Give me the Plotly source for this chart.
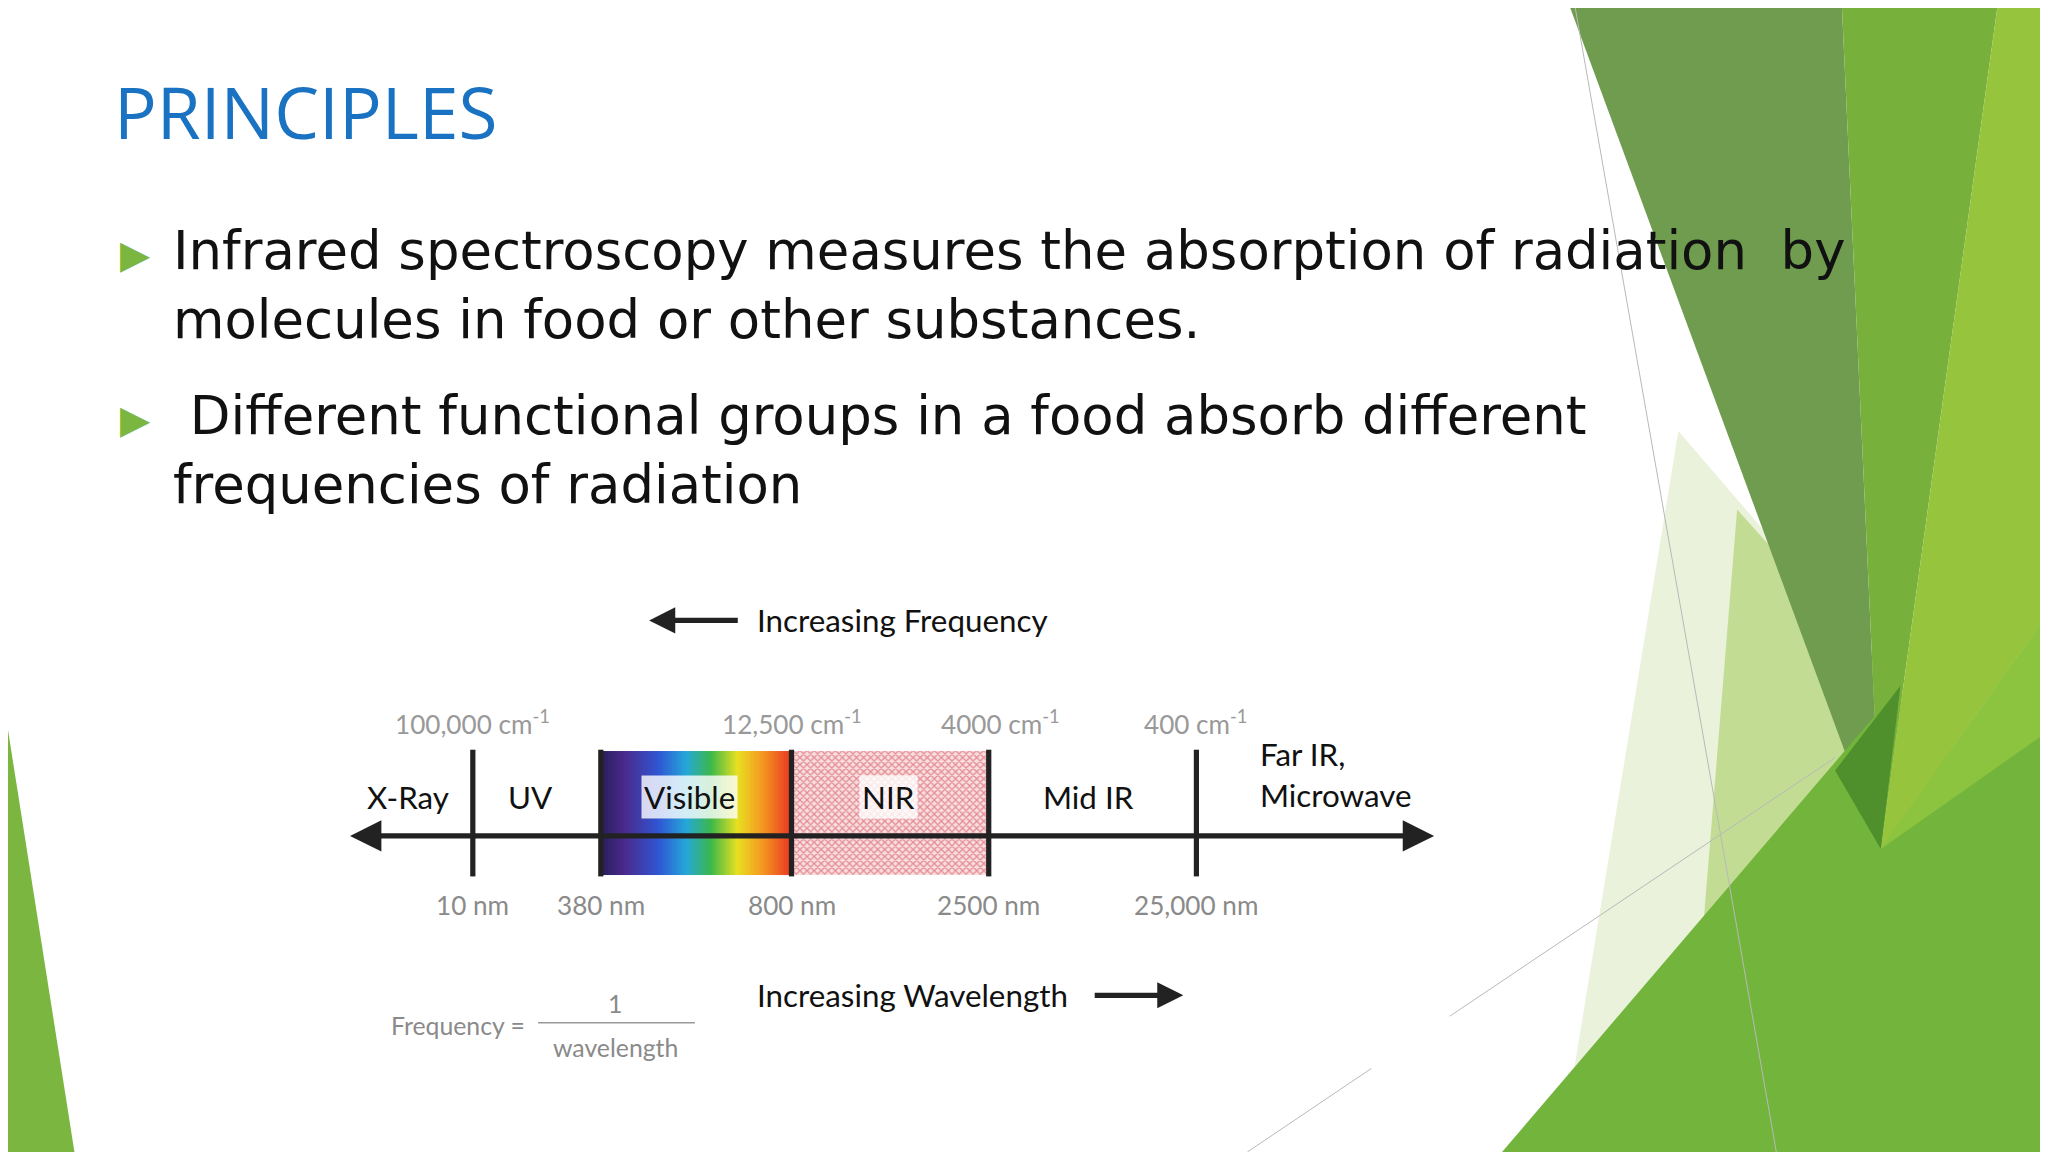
import plotly.graph_objects as go
import numpy as np

S = 2048/1568
OFF = 8/S  # compensate page body margin

# ---- data ----
regions = ["X-Ray", "UV", "Visible", "NIR", "Mid IR", "Far IR,<br>Microwave"]
region_x = [312, 406, 528, 680, 833, 963]
boundaries = [362, 460, 606, 757, 916]
wavelength_labels = ["10 nm", "380 nm", "800 nm", "2500 nm", "25,000 nm"]
wavenumber_labels = ["100,000 cm<sup>-1</sup>", "12,500 cm<sup>-1</sup>", "4000 cm<sup>-1</sup>", "400 cm<sup>-1</sup>"]
wavenumber_x = [362, 606, 766, 915]
bullets = ["Infrared spectroscopy measures the absorption of radiation  by<br>molecules in food or other substances.",
           " Different functional groups in a food absorb different<br>frequencies of radiation"]

fig = go.Figure()

def poly(pts, color, line=None, lw=0):
    path = "M " + " L ".join(f"{x},{y}" for x, y in pts) + " Z"
    fig.add_shape(type="path", path=path, fillcolor=color, line=dict(width=lw, color=line or color), layer="below")

# background decorations
poly([(0, 520), (57, 882), (0, 882)], "#7ab640")
poly([(1285, 330), (1500, 580), (1205, 820)], "#eaf2dc")
poly([(1330, 390), (1500, 580), (1330, 882), (1290, 882)], "#c2dc93")
poly([(1200, 0), (1410, 0), (1440, 650)], "#6f9c4e")
poly([(1410, 0), (1530, 0), (1440, 650)], "#78b03c")
poly([(1530, 0), (1568, 0), (1568, 470), (1440, 650)], "#96c43c")
poly([(1150, 882), (1455, 525), (1440, 650), (1568, 470), (1568, 882)], "#72b43c")
poly([(1405, 590), (1455, 525), (1440, 650)], "#4f8f2c")
poly([(1440, 650), (1568, 470), (1568, 560)], "#8cc43f")
for (x0, y0, x1, y1) in [(1205, 0, 1360, 882), (1110, 778, 1405, 580), (955, 882, 1050, 818)]:
    fig.add_shape(type="line", x0=x0, y0=y0, x1=x1, y1=y1, line=dict(color="#b9b9b9", width=1), layer="below")

# title
fig.add_annotation(x=86, y=85, text="PRINCIPLES", showarrow=False, xanchor="left", yanchor="middle",
                   font=dict(family="Open Sans", size=54.5*S, color="#1a73c2"))
for t, yb in zip(bullets, [195, 321]):
    fig.add_annotation(x=104, y=yb, text="▶", showarrow=False, font=dict(size=30*S, color="#7ab640", family="DejaVu Sans"))
    fig.add_annotation(x=131, y=yb-28, text=t, showarrow=False, xanchor="left", yanchor="top", align="left",
                       font=dict(family="DejaVu Sans", size=40.5*S, color="#111"))

# spectrum gradient
xs = np.linspace(461, 605, 150)
fig.add_trace(go.Heatmap(x=xs, y=[598.75, 646.25], z=[xs, xs], showscale=False, hoverinfo="skip",
                         colorscale=[[0, "#2b1f5e"], [0.12, "#4a2a8c"], [0.3, "#2f55d4"], [0.45, "#25a8d8"],
                                     [0.58, "#3cb84a"], [0.72, "#e8e020"], [0.85, "#f59a20"], [1, "#ea3a24"]]))
# NIR hatched
fig.add_trace(go.Bar(x=[(606+757)/2], y=[95], base=[575], width=[151], hoverinfo="skip",
                     marker=dict(color="#f8dede", line=dict(width=0),
                                 pattern=dict(shape="x", fgcolor="#d03848", size=5, solidity=0.45))))

# main axis
fig.add_shape(type="line", x0=282, x1=1086, y0=640, y1=640, line=dict(color="#222", width=4*S))
fig.add_annotation(x=1098, y=640, ax=1080, ay=640, axref="x", ayref="y", showarrow=True, arrowhead=2, arrowsize=1.2, arrowwidth=4*S, arrowcolor="#222", text="")
fig.add_annotation(x=268, y=640, ax=290, ay=640, axref="x", ayref="y", showarrow=True, arrowhead=2, arrowsize=1.2, arrowwidth=4*S, arrowcolor="#222", text="")
for bx in boundaries:
    fig.add_shape(type="line", x0=bx, x1=bx, y0=574, y1=671, line=dict(color="#222", width=4*S))

dfont = "Lato"
for lab, x in zip(regions, region_x):
    if lab in ("Visible", "NIR"):
        fig.add_annotation(x=x, y=610, text=lab, showarrow=False, font=dict(family=dfont, size=24*S, color="#111"),
                           bgcolor="rgba(255,255,255,0.8)", borderpad=2)
    elif "Far" in lab:
        fig.add_annotation(x=x, y=593, text=lab, showarrow=False, xanchor="left", align="left",
                           font=dict(family=dfont, size=24*S, color="#111"))
    else:
        fig.add_annotation(x=x, y=610, text=lab, showarrow=False, font=dict(family=dfont, size=24*S, color="#111"))
for lab, x in zip(wavenumber_labels, wavenumber_x):
    fig.add_annotation(x=x, y=553, text=lab, showarrow=False, font=dict(family=dfont, size=20*S, color="#999"))
for lab, x in zip(wavelength_labels, boundaries):
    fig.add_annotation(x=x, y=693, text=lab, showarrow=False, font=dict(family=dfont, size=20*S, color="#8a8a8a"))

fig.add_annotation(x=578, y=475, text="Increasing Frequency", showarrow=False, xanchor="left",
                   font=dict(family=dfont, size=24*S, color="#111"))
fig.add_annotation(x=497, y=475, ax=566, ay=475, axref="x", ayref="y", showarrow=True, arrowhead=2, arrowsize=1, arrowwidth=4*S, arrowcolor="#222", text="")
fig.add_annotation(x=578, y=762, text="Increasing Wavelength", showarrow=False, xanchor="left",
                   font=dict(family=dfont, size=24*S, color="#111"))
fig.add_annotation(x=906, y=762, ax=837, ay=762, axref="x", ayref="y", showarrow=True, arrowhead=2, arrowsize=1, arrowwidth=4*S, arrowcolor="#222", text="")

fig.add_annotation(x=298, y=785, text="Frequency =", showarrow=False, xanchor="left", font=dict(family=dfont, size=19*S, color="#8a8a8a"))
fig.add_annotation(x=471, y=768, text="1", showarrow=False, font=dict(family=dfont, size=19*S, color="#8a8a8a"))
fig.add_shape(type="line", x0=412, x1=532, y0=783, y1=783, line=dict(color="#999", width=1.5))
fig.add_annotation(x=471, y=802, text="wavelength", showarrow=False, font=dict(family=dfont, size=19*S, color="#8a8a8a"))

fig.update_xaxes(range=[OFF, 1568 + OFF], visible=False, fixedrange=True)
fig.update_yaxes(range=[882 + OFF, OFF], visible=False, fixedrange=True)
fig.update_layout(width=2048, height=1152, margin=dict(l=0, r=0, t=0, b=0), showlegend=False,
                  plot_bgcolor="white", paper_bgcolor="white", bargap=0)
fig.write_html("out.html")
